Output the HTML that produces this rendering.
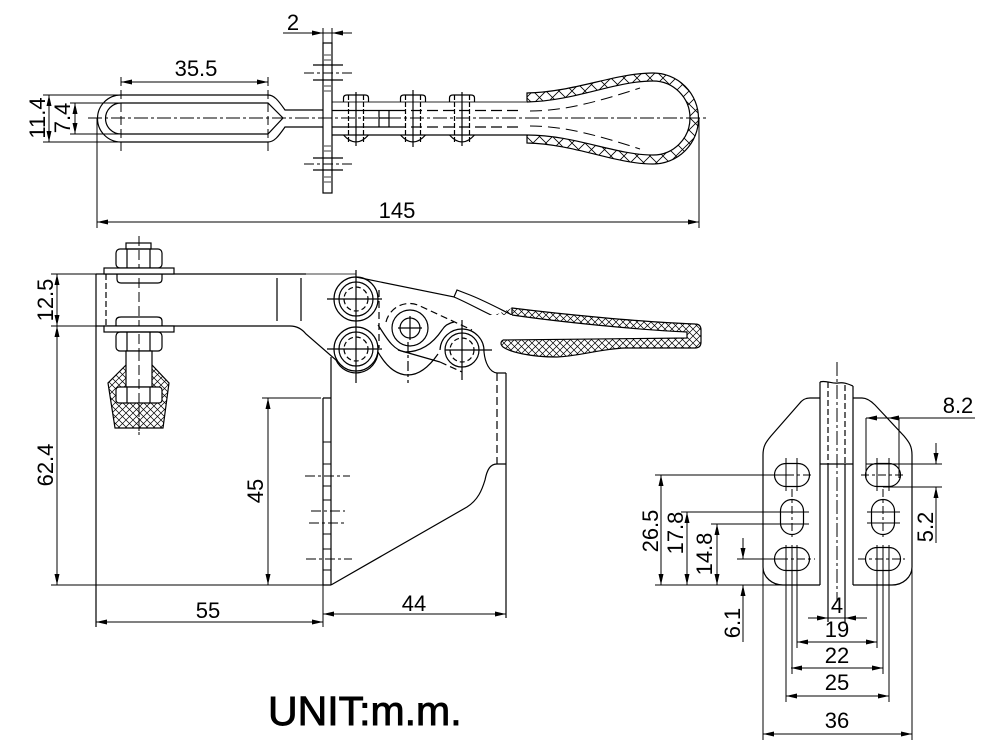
<!DOCTYPE html>
<html><head><meta charset="utf-8"><style>
html,body{margin:0;padding:0;background:#fff;}
svg{display:block;}
text{font-family:"Liberation Sans",Arial,sans-serif;fill:#000;font-size:22px;}
</style></head><body>
<svg width="985" height="755" viewBox="0 0 985 755" xmlns="http://www.w3.org/2000/svg">
<defs>
<pattern id="xh" width="7" height="7" patternUnits="userSpaceOnUse"><path d="M0,0L7,7M7,0L0,7" stroke="#000" stroke-width="0.7" fill="none"/></pattern>
<pattern id="zz" width="13" height="13" patternUnits="userSpaceOnUse"><path d="M0,0L13,13M13,0L0,13" stroke="#000" stroke-width="0.8" fill="none"/></pattern>
</defs>
<rect width="985" height="755" fill="#fff"/>

<!-- ================= TOP VIEW ================= -->
<g fill="none" stroke="#000" stroke-width="1.2">
  <path d="M527,93 C575,92 615,73 653,73 A45.5,45.5 0 0 1 653,164 C615,164 575,144 527,143 Z M527,102 C575,101 615,81 653,81 A37,37 0 0 1 653,155 C615,155 575,135 527,135 Z" fill="url(#zz)" fill-rule="evenodd" stroke="none"/>
  <path d="M527,102 V93 C575,92 615,73 653,73 A45.5,45.5 0 0 1 653,164 C615,164 575,144 527,143 V135"/>
  <path d="M527,102 C575,101 615,81 653,81 A37,37 0 0 1 653,155 C615,155 575,135 527,135"/>
  <path d="M530,111 C565,111 600,101 640,88 M530,126 C565,126 600,136 640,149" stroke-dasharray="12,6" stroke-width="1"/>

  <path d="M88,118 H707" stroke-dasharray="14,3,3,3" stroke-width="1"/>

  <path d="M121,95 H268 C274,95 278,100 285,110 H323 M121,142 H268 C274,142 278,137 285,127 H323 M121,95 A23.5,23.5 0 0 0 121,142"/>
  <path d="M121,103 H268 L283,118 L268,134 H121 A15.5,15.5 0 0 1 121,103"/>
  <path d="M121,77 V155 M268,77 V155" stroke-dasharray="9,4" stroke-width="1"/>

  <path d="M332,110.5 H395 M332,127 H395"/>
  <path d="M395,110.5 H520 M395,127 H520" stroke-dasharray="11,5"/>
  <path d="M332,102 H527" stroke="#555"/>
  <path d="M332,135 H527"/>
  <path d="M379,111V127M389,111V127M379,118H389"/>

  <g>
    <path d="M343.5,102V98Q343.5,95 347,95H365Q368.5,95 368.5,98V102 M343.5,135Q356,149 368.5,135 M356,92V146"/>
    <path d="M348.5,95V142M363.5,95V142" stroke-dasharray="5,2"/>
    <path d="M400.5,102V98Q400.5,95 404,95H422Q425.5,95 425.5,98V102 M400.5,135Q413,149 425.5,135 M413,90V147"/>
    <path d="M405.5,95V142M420.5,95V142" stroke-dasharray="5,2"/>
    <path d="M449.5,102V98Q449.5,95 453,95H471Q474.5,95 474.5,98V102 M449.5,135Q462,149 474.5,135 M462,92V146"/>
    <path d="M454.5,95V142M469.5,95V142" stroke-dasharray="5,2"/>
  </g>

  <rect x="323" y="43" width="9" height="150"/>
  <path d="M313,65H343 M313,80H343 M313,158H343 M313,170H343"/>
  <path d="M304,73H355 M304,164H355" stroke-dasharray="10,3,3,3" stroke-width="1"/>
  <path d="M324,55H331 M324,60H331 M324,86H331 M324,91H331 M324,146H331 M324,151H331 M324,177H331 M324,182H331" stroke-width="0.8"/>

  <path d="M283,33H352 M323,28V43 M332,28V43" stroke-width="1"/>
  <path d="M121,82H268" stroke-width="1"/>
  <path d="M43,95H121 M43,142H121 M70,103H121 M70,134H121 M49,95V142 M75,103V134" stroke-width="1"/>
  <path d="M97,118V228 M699,118V228 M97,222H699" stroke-width="1"/>
</g>

<!-- ================= SIDE VIEW ================= -->
<g fill="none" stroke="#000" stroke-width="1.2">
  <path d="M96,274H306"/>
  <path d="M306,274H356" stroke="#666"/>
  <path d="M96,274V627"/>
  <path d="M106,274V326" stroke-dasharray="6,3"/>
  <path d="M277,278V321 M301,278V321"/>
  <path d="M96,326 H290 C297,326 302,329 306,334 L336,360 A22,22 0 0 0 378,352 C386,366 396,375 408,375 C421,375 431,364 438,354"/>
  <path d="M440,350 A22,22 0 0 1 484,352 C485,362 489,372 497,373 L506,373"/>

  <path d="M378,325 C385,335 392,350 405,352 C420,352 432,345 442,330 C445,325 449,323 454,322"/>
  <path d="M386,322 A24,24 0 0 1 420,306 L472,330 M440,362 L462,372" stroke-dasharray="7,4"/>
  <path d="M398,350 L440,362"/>

  <circle cx="356" cy="299" r="22"/>
  <circle cx="356" cy="299" r="17"/>
  <circle cx="356" cy="299" r="12" stroke-dasharray="5,3"/>
  <path d="M327,299H382 M356,270V322"/>
  <circle cx="356" cy="349" r="22"/>
  <circle cx="356" cy="349" r="17"/>
  <circle cx="356" cy="349" r="12" stroke-dasharray="5,3"/>
  <path d="M327,349H382 M356,322V383"/>
  <circle cx="410" cy="328" r="18"/>
  <circle cx="410" cy="328" r="10"/>
  <path d="M398,328H422 M410,316V340"/>
  <circle cx="462" cy="350" r="17"/>
  <circle cx="462" cy="350" r="12" stroke-dasharray="5,3"/>
  <path d="M445,350H492 M462,320V380"/>
  <path d="M408,342V383" stroke-dasharray="10,3,3,3"/>
  <path d="M379,290V348" stroke-dasharray="7,4"/>

  <!-- lever -->
  <path d="M356,277 L454,297 L457,290 L470,295 C485,301 498,308 512,315"/>
  <path d="M454,297 C480,308 505,326 545,334 C570,337 600,338 620,338"/>

  <!-- grip -->
  <path d="M512,308 C560,314 640,322 695,324 Q701,324 701,330 V342 Q701,348 695,348 H625 C600,349 580,356 557,357 C530,357 510,352 503,347 Q499,343 503,340 L495,315 Z" fill="url(#xh)" stroke="none"/>
  <path d="M512,315 C560,322 640,330 687,332 V338 C640,338 580,339 503,340 L490,315 Z" fill="#fff" stroke="none"/>
  <path d="M512,315 L512,308 C560,314 640,322 695,324 Q701,324 701,330 V342 Q701,348 695,348 H625 C600,349 580,356 557,357 C530,357 510,352 503,347 Q499,343 503,340"/>
  <path d="M512,315 C560,322 640,330 687,332 V338 C640,338 580,339 503,340"/>

  <!-- frame -->
  <path d="M323,398V585 M331,357V585 M323,398H331 M323,585H331"/>
  <path d="M323,442H331M323,464H331M323,486H331M323,500H331M323,534H331M323,549H331M323,570H331" stroke-width="1"/>
  <path d="M305,476H350M311,511H345M309,523H346M306,559H352" stroke-dasharray="10,3,3,3" stroke-width="1"/>
  <path d="M331,585 L467,507 C478,500 482,490 485,480 C487,470 490,464 497,464 H506"/>
  <path d="M497,373V464" stroke-dasharray="8,4"/>
  <path d="M506,373V618"/>

  <!-- bolt -->
  <path d="M139,236V435" stroke-dasharray="10,4" stroke-width="1"/>
  <rect x="126" y="243" width="25" height="6"/>
  <rect x="116" y="249" width="46" height="19" rx="4"/>
  <path d="M127,249V268 M150,249V268"/>
  <rect x="104" y="268" width="70" height="6" fill="#fff"/>
  <path d="M117,274V279Q117,283 121,283H158Q162,283 162,279V274"/>
  <path d="M116,326V321Q116,317 121,317H157Q162,317 162,321V326"/>
  <rect x="104" y="326" width="70" height="6" fill="#fff"/>
  <rect x="116" y="332" width="46" height="19" rx="4"/>
  <path d="M127,332V351 M150,332V351"/>
  <path d="M126,365 L108,383 L115,428 L163,428 L169,383 L152,365 Z" fill="url(#xh)"/>
  <rect x="126" y="351" width="26" height="36" fill="#fff"/>
  <rect x="116" y="387" width="46" height="16" rx="3" fill="#fff"/>
  <path d="M127,387V403 M150,387V403"/>
  <path d="M139,351V435" stroke-dasharray="10,4" stroke-width="1"/>

  <path d="M51,274H96 M51,326H96 M57,274V585 M51,585H323" stroke-width="1"/>
  <path d="M262,398H321 M268,398V585" stroke-width="1"/>
  <path d="M96,622H323 M323,585V627" stroke-width="1"/>
  <path d="M323,614H506" stroke-width="1"/>
</g>

<!-- ================= END VIEW ================= -->
<g fill="none" stroke="#000" stroke-width="1.2">
  <path d="M820,382 C826,380 832,384 838,383 C844,382 848,384 853,386"/>
  <path d="M820,382V585 M853,386V585 M820,464H853"/>
  <path d="M828,382V464 M845,385V464" stroke-dasharray="6,3"/>
  <path d="M828,464V622 M845,464V622"/>
  <path d="M837,362V600" stroke-dasharray="14,3,3,3" stroke-width="1"/>

  <path d="M820,398H810 C805,398 802,400 799,404 L771,436 C766,442 763,446 763,455 V567 C763,577 772,585 783,585 H820"/>
  <path d="M853,398H862 C867,398 871,401 875,405 L904,436 C909,442 912,446 912,455 V567 C912,577 903,585 892,585 H853"/>

  <rect x="774.5" y="463.5" width="35" height="23" rx="11.5"/>
  <rect x="780.5" y="499.5" width="23" height="35" rx="11.5"/>
  <rect x="774.5" y="547.5" width="35" height="23" rx="11.5"/>
  <rect x="865.5" y="463.5" width="35" height="23" rx="11.5"/>
  <rect x="871.5" y="499.5" width="23" height="35" rx="11.5"/>
  <rect x="865.5" y="547.5" width="35" height="23" rx="11.5"/>

  <path d="M786,458V491 M797,458V491 M877,458V491 M889,458V491" stroke-width="1"/>
  <path d="M655,475H786 M737,559H780" stroke-width="1"/>
  <path d="M786,475H814 M861,475H905 M780,559H815 M858,559H905" stroke-dasharray="8,3,3,3" stroke-width="1"/>
  <path d="M792,489V538 M883,489V540" stroke-dasharray="8,3,3,3" stroke-width="1"/>
  <path d="M867,512H900 M867,523H900" stroke-width="1"/>

  <path d="M655,585H820" stroke-width="1"/>
  <path d="M661,475V585" stroke-width="1"/>
  <path d="M681,512H809 M687,512V585" stroke-width="1"/>
  <path d="M711,524H809 M717,524V585" stroke-width="1"/>
  <path d="M743,538V559 M743,585V642" stroke-width="1"/>
  <path d="M866,464H942 M883,487H942 M936,443V464 M936,487V543" stroke-width="1"/>
  <path d="M866,418H975 M866,418V478 M899,418V478" stroke-width="1"/>
  <path d="M808,618H867" stroke-width="1"/>
  <path d="M797,642H877 M791,668H883 M786,696H889 M763,734H912" stroke-width="1"/>
  <path d="M763,567V740 M912,567V740 M786,545V702 M889,545V702 M792,545V674 M883,545V674 M797,545V648 M877,545V648" stroke-width="1"/>
</g>

<g fill="#000" stroke="none">
  <path d="M323,33L312,30.5L312,35.5Z M332,33L343,30.5L343,35.5Z"/>
  <path d="M121,82L132,79.5L132,84.5Z M268,82L257,79.5L257,84.5Z"/>
  <path d="M49,95L46.5,106L51.5,106Z M49,142L46.5,131L51.5,131Z"/>
  <path d="M75,103L72.5,114L77.5,114Z M75,134L72.5,123L77.5,123Z"/>
  <path d="M97,222L108,219.5L108,224.5Z M699,222L688,219.5L688,224.5Z"/>
  <path d="M57,274L54.5,285L59.5,285Z M57,326L54.5,315L59.5,315Z"/>
  <path d="M57,326L54.5,337L59.5,337Z M57,585L54.5,574L59.5,574Z"/>
  <path d="M268,398L265.5,409L270.5,409Z M268,585L265.5,574L270.5,574Z"/>
  <path d="M96,622L107,619.5L107,624.5Z M323,622L312,619.5L312,624.5Z"/>
  <path d="M323,614L334,611.5L334,616.5Z M506,614L495,611.5L495,616.5Z"/>
  <path d="M661,475L658.5,486L663.5,486Z M661,585L658.5,574L663.5,574Z"/>
  <path d="M687,512L684.5,523L689.5,523Z M687,585L684.5,574L689.5,574Z"/>
  <path d="M717,524L714.5,535L719.5,535Z M717,585L714.5,574L719.5,574Z"/>
  <path d="M743,559L740.5,548L745.5,548Z M743,585L740.5,596L745.5,596Z"/>
  <path d="M936,464L933.5,453L938.5,453Z M936,487L933.5,498L938.5,498Z"/>
  <path d="M866,418L877,415.5L877,420.5Z M888,418L899,415.5L899,420.5Z"/>
  <path d="M828,618L817,615.5L817,620.5Z M845,618L856,615.5L856,620.5Z"/>
  <path d="M797,642L808,639.5L808,644.5Z M877,642L866,639.5L866,644.5Z"/>
  <path d="M791,668L802,665.5L802,670.5Z M883,668L872,665.5L872,670.5Z"/>
  <path d="M786,696L797,693.5L797,698.5Z M889,696L878,693.5L878,698.5Z"/>
  <path d="M763,734L774,731.5L774,736.5Z M912,734L901,731.5L901,736.5Z"/>
</g>

<g text-anchor="middle">
  <text x="293" y="30">2</text>
  <text x="196" y="76">35.5</text>
  <text x="45" y="118" transform="rotate(-90 45 118)">11.4</text>
  <text x="70" y="118" transform="rotate(-90 70 118)">7.4</text>
  <text x="397" y="218">145</text>
  <text x="53" y="300" transform="rotate(-90 53 300)">12.5</text>
  <text x="53" y="465" transform="rotate(-90 53 465)">62.4</text>
  <text x="263" y="491" transform="rotate(-90 263 491)">45</text>
  <text x="208" y="618">55</text>
  <text x="414" y="611">44</text>
  <text x="658" y="531" transform="rotate(-90 658 531)">26.5</text>
  <text x="683" y="533" transform="rotate(-90 683 533)">17.8</text>
  <text x="712" y="554" transform="rotate(-90 712 554)">14.8</text>
  <text x="933" y="527" transform="rotate(-90 933 527)">5.2</text>
  <text x="740" y="623" transform="rotate(-90 740 623)">6.1</text>
  <text x="958" y="413">8.2</text>
  <text x="837" y="613">4</text>
  <text x="837" y="637">19</text>
  <text x="837" y="663">22</text>
  <text x="837" y="690">25</text>
  <text x="837" y="728">36</text>
</g>
<text x="268" y="725" style="font-size:41px" stroke="#000" stroke-width="0.9">UNIT:m.m.</text>
</svg>
</body></html>
